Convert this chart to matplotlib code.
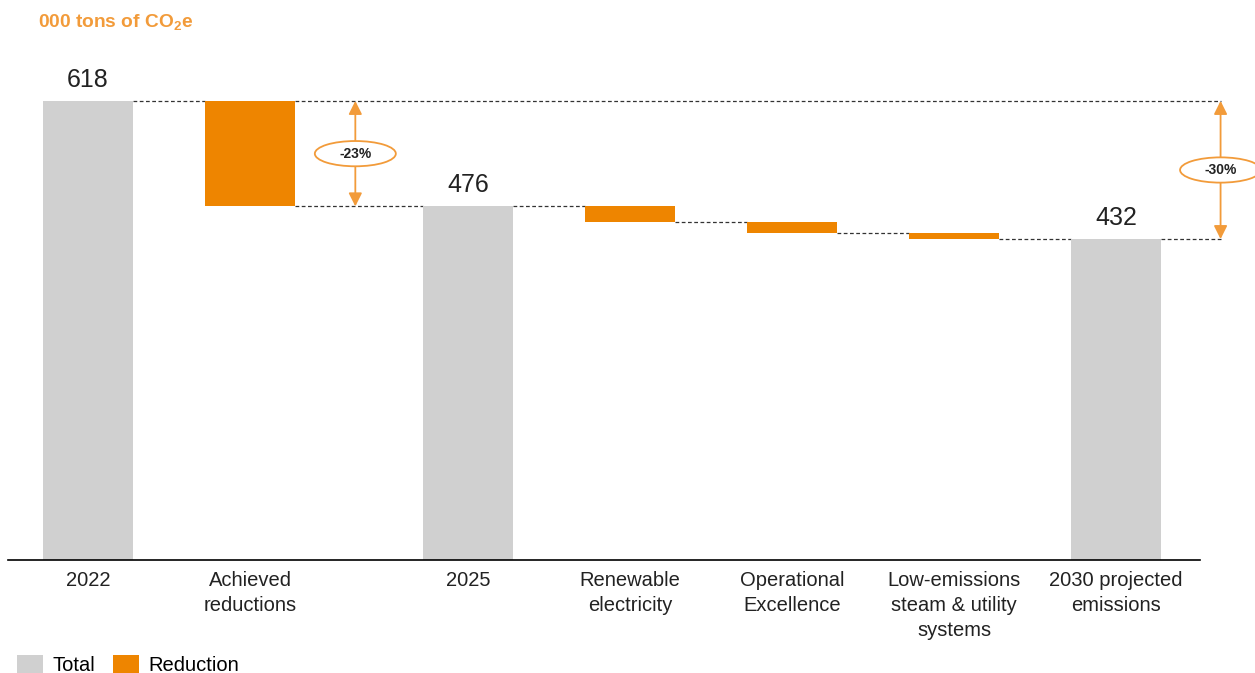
import matplotlib.pyplot as plt
import numpy as np
from matplotlib.patches import Ellipse, Patch

plt.rcParams['font.family'] = ['Liberation Sans', 'DejaVu Sans']
plt.rcParams['mathtext.fontset'] = 'custom'
plt.rcParams['mathtext.rm'] = 'Liberation Sans'
plt.rcParams['mathtext.it'] = 'Liberation Sans'
plt.rcParams['mathtext.bf'] = 'Liberation Sans:bold'

# --- data ---
categories = ["2022", "Achieved\nreductions", "2025", "Renewable\nelectricity",
              "Operational\nExcellence", "Low-emissions\nsteam & utility\nsystems",
              "2030 projected\nemissions"]
values = [618, -142, 476, -21, -15, -8, 432]
kinds = ["total", "reduction", "total", "reduction", "reduction", "reduction", "total"]
pct_labels = ["-23%", "-30%"]

GRAY = "#D0D0D0"
ORANGE = "#EE8500"
LIGHT_ORANGE = "#F29B3A"

fig = plt.figure(figsize=(12.55, 6.73), dpi=100)
ax = fig.add_axes([8 / 1255, 113 / 673, 1192 / 1255, 520 / 673])

# x positions: extra gap after the achieved reductions bar
x = np.arange(len(categories), dtype=float)
x[2:] += 0.346
width = 0.556

bottoms, tops = [], []
level = 0
for v, k in zip(values, kinds):
    if k == "total":
        bottoms.append(0)
        tops.append(v)
        level = v
    else:
        bottoms.append(level + v)
        tops.append(level)
        level = level + v

for xi, b, t, k in zip(x, bottoms, tops, kinds):
    ax.bar(xi, t - b, bottom=b, width=width,
           color=GRAY if k == "total" else ORANGE, zorder=2)
    if k == "total":
        ax.text(xi, t + 12, str(t), ha="center", va="bottom", fontsize=18, color="#222222")

# dashed connectors between bars
dash = dict(color="#333333", lw=0.9, linestyle=(0, (3, 2)), clip_on=False, zorder=1)
for i in range(len(values) - 1):
    lvl = tops[i] if kinds[i] == "total" else bottoms[i]
    ax.plot([x[i] + width / 2, x[i + 1] - width / 2], [lvl, lvl], **dash)

x_arrow2 = x[-1] + 0.645
x_arrow1 = 1.65
# long line at starting level and final level to the right arrow
ax.plot([x[1] + width / 2, x_arrow2], [tops[0], tops[0]], **dash)
ax.plot([x[-1] + width / 2, x_arrow2], [tops[-1], tops[-1]], **dash)


def pct_arrow(xa, y0, y1, label):
    ax.annotate("", xy=(xa, y1), xytext=(xa, y0),
                arrowprops=dict(arrowstyle="<|-|>", color=LIGHT_ORANGE, lw=1.3,
                                mutation_scale=20, shrinkA=0, shrinkB=0),
                annotation_clip=False, zorder=3)
    ym = (y0 + y1) / 2
    e = Ellipse((xa, ym), 0.5, 34, facecolor="white", edgecolor=LIGHT_ORANGE,
                lw=1.3, zorder=4, clip_on=False)
    ax.add_patch(e)
    ax.text(xa, ym, label, ha="center", va="center", fontsize=10,
            fontweight="bold", color="#222222", zorder=5)


pct_arrow(x_arrow1, tops[2], tops[0], pct_labels[0])
pct_arrow(x_arrow2, tops[-1], tops[0], pct_labels[1])

ax.set_xlim(x[0] - 0.494, x[0] - 0.494 + 1192 / 162)
ax.set_ylim(0, 700)
ax.set_xticks(x)
ax.set_xticklabels(categories, fontsize=14.5, color="#222222", linespacing=1.4)
ax.tick_params(axis="x", length=0, pad=8)
ax.set_yticks([])
for s in ["top", "left", "right"]:
    ax.spines[s].set_visible(False)
ax.spines["bottom"].set_linewidth(1.2)

fig.text(38 / 1255, 1 - 22 / 673, r"000 tons of CO$\mathbf{_2}$e", color=LIGHT_ORANGE,
         fontsize=13.8, fontweight="bold", va="center", ha="left")

handles = [Patch(facecolor=GRAY, label="Total"), Patch(facecolor=ORANGE, label="Reduction")]
fig.legend(handles=handles, loc="lower left", bbox_to_anchor=(-0.001, -0.03), ncol=2,
           frameon=False, fontsize=14.5, handlelength=1.3, handleheight=1.1,
           handletextpad=0.45, columnspacing=0.9)

fig.savefig("out.png", dpi=100)
